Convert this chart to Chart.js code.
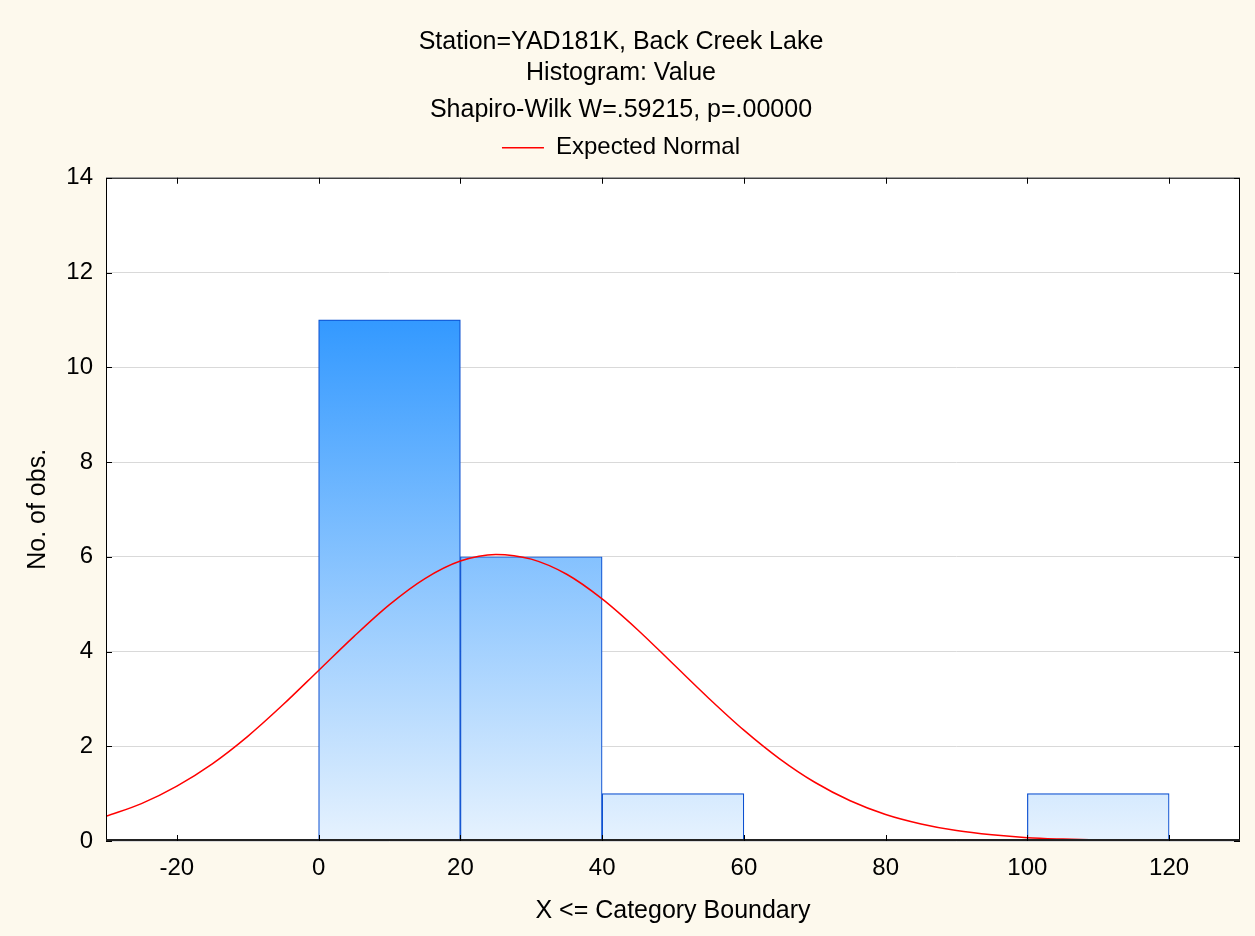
<!DOCTYPE html>
<html>
<head>
<meta charset="utf-8">
<script src="https://cdn.jsdelivr.net/npm/chart.js@4.4.1/dist/chart.umd.min.js"></script>
<style>
    html, body { margin: 0; padding: 0; background: #fdf9ed; }
    #wrap { width: 1255px; height: 936px; }
</style>
</head>
<body>
<div id="wrap"><canvas id="histChart" width="1255" height="936"></canvas></div>
<script>
// Przedziały histogramu i liczebności
const binLower = [0, 20, 40, 100];
const binUpper = [20, 40, 60, 120];
const counts = [11, 6, 1, 1];

// Krzywa "Expected Normal"
const curveX = [-30, -25, -20, -15, -10, -5, 0, 5, 10, 15, 20, 25, 30, 35, 40, 45, 50, 55,
    60, 65, 70, 75, 80, 85, 90, 95, 100, 105, 110, 115, 120, 125, 130];
const curveY = [0.52, 0.79, 1.16, 1.63, 2.21, 2.88, 3.60, 4.32, 4.99, 5.54, 5.91, 6.05, 5.95,
    5.63, 5.11, 4.46, 3.74, 3.02, 2.34, 1.74, 1.24, 0.85, 0.56, 0.36, 0.22, 0.13, 0.07,
    0.04, 0.02, 0.01, 0.005, 0.002, 0.001];

// Etykiety osi
const xTickValues = [-20, 0, 20, 40, 60, 80, 100, 120];
const yTickValues = [0, 2, 4, 6, 8, 10, 12, 14];

const titleLines = ["Station=YAD181K, Back Creek Lake", "Histogram: Value"];
const subtitleText = "Shapiro-Wilk W=.59215, p=.00000";

Chart.defaults.font.family = "'Liberation Sans', Arial, sans-serif";
Chart.defaults.color = "#000";

// Słupki jako punkty {x: środek przedziału, y: liczebność}
const barData = counts.map((c, i) => ({ x: (binLower[i] + binUpper[i]) / 2, y: c }));
const curveData = curveX.map((x, i) => ({ x: x, y: curveY[i] }));

// Białe tło obszaru wykresu, ramka i krótkie znaczniki skierowane do środka
const framePlugin = {
    id: "frame",
    beforeDraw(chart) {
        const { ctx, chartArea: a } = chart;
        ctx.save();
        ctx.fillStyle = "#ffffff";
        ctx.fillRect(a.left, a.top, a.right - a.left, a.bottom - a.top);
        ctx.restore();
    },
    afterDatasetsDraw(chart) {
        const { ctx, chartArea: a, scales } = chart;
        ctx.save();
        ctx.strokeStyle = "#000";
        ctx.lineWidth = 1;
        ctx.strokeRect(a.left + 0.5, a.top + 0.5, a.right - a.left - 1, a.bottom - a.top - 1);
        ctx.lineWidth = 2;
        ctx.strokeStyle = "#222";
        ctx.beginPath();
        ctx.moveTo(a.left, a.bottom - 1);
        ctx.lineTo(a.right, a.bottom - 1);
        ctx.stroke();

        ctx.lineWidth = 1;
        ctx.strokeStyle = "#000";
        ctx.beginPath();
        xTickValues.forEach(v => {
            const px = Math.round(scales.x.getPixelForValue(v)) + 0.5;
            ctx.moveTo(px, a.bottom);
            ctx.lineTo(px, a.bottom - 6);
            ctx.moveTo(px, a.top);
            ctx.lineTo(px, a.top + 6);
        });
        yTickValues.forEach(v => {
            const py = Math.round(scales.y.getPixelForValue(v)) + 0.5;
            ctx.moveTo(a.left, py);
            ctx.lineTo(a.left + 6, py);
            ctx.moveTo(a.right, py);
            ctx.lineTo(a.right - 6, py);
        });
        ctx.stroke();
        ctx.restore();
    }
};

// Gradient słupków: jasny przy zerze, ciemniejszy niebieski przy 11
function barGradient(context) {
    const chart = context.chart;
    if (!chart.chartArea) return "#8cc3fb";
    const y = chart.scales.y;
    const g = chart.ctx.createLinearGradient(0, y.getPixelForValue(0), 0, y.getPixelForValue(11));
    g.addColorStop(0, "#e6f2fe");
    g.addColorStop(1, "#3399ff");
    return g;
}

new Chart(document.getElementById("histChart"), {
    type: "bar",
    data: {
        datasets: [
            {
                type: "line",
                label: "Expected Normal",
                data: curveData,
                xAxisID: "x",
                borderColor: "#ff0000",
                backgroundColor: "#ff0000",
                borderWidth: 1.5,
                pointRadius: 0,
                tension: 0.4,
                cubicInterpolationMode: "monotone",
                order: 0
            },
            {
                label: "Value",
                data: barData,
                xAxisID: "x",
                backgroundColor: barGradient,
                borderColor: "#0b4fd0",
                borderWidth: 1.2,
                barPercentage: 1,
                categoryPercentage: 1,
                order: 1
            }
        ]
    },
    options: {
        responsive: false,
        animation: false,
        layout: { padding: { left: 2, right: 15, top: 0, bottom: 0 } },
        plugins: {
            title: {
                display: true,
                text: titleLines,
                font: { size: 25, weight: "normal", lineHeight: 1.25 },
                padding: { top: 26, bottom: 4 }
            },
            subtitle: {
                display: true,
                text: subtitleText,
                color: "#000",
                font: { size: 25, weight: "normal", lineHeight: 1.25 },
                padding: { top: 2, bottom: 0 }
            },
            legend: {
                display: true,
                labels: {
                    filter: item => item.text === "Expected Normal",
                    usePointStyle: true,
                    pointStyle: "line",
                    pointStyleWidth: 42,
                    padding: 10,
                    font: { size: 24 }
                }
            },
            tooltip: { enabled: false }
        },
        scales: {
            x: {
                type: "linear",
                position: "bottom",
                min: -30,
                max: 130,
                offset: false,
                afterBuildTicks: s => { s.ticks = xTickValues.map(v => ({ value: v })); },
                afterFit: s => { s.height = 95; },
                grid: { display: false, drawTicks: false, offset: false },
                border: { display: false },
                ticks: { font: { size: 24 }, padding: 13, maxRotation: 0 },
                title: {
                    display: true,
                    text: "X <= Category Boundary",
                    font: { size: 25 },
                    padding: { top: 10, bottom: 10 }
                }
            },
            xTop: {
                type: "linear",
                position: "top",
                min: -30,
                max: 130,
                afterFit: s => { s.height = 8; },
                grid: { display: false, drawTicks: false },
                border: { display: false },
                ticks: { display: false }
            },
            y: {
                type: "linear",
                min: 0,
                max: 14,
                afterBuildTicks: s => { s.ticks = yTickValues.map(v => ({ value: v })); },
                afterFit: s => { s.width = 104; },
                grid: { color: "#d9d9d9", lineWidth: 1, drawTicks: false },
                border: { display: false },
                ticks: { font: { size: 24 }, padding: 13 },
                title: {
                    display: true,
                    text: "No. of obs.",
                    font: { size: 25 },
                    padding: { top: 21, bottom: 0 }
                }
            }
        }
    },
    plugins: [framePlugin]
});
</script>
</body>
</html>
